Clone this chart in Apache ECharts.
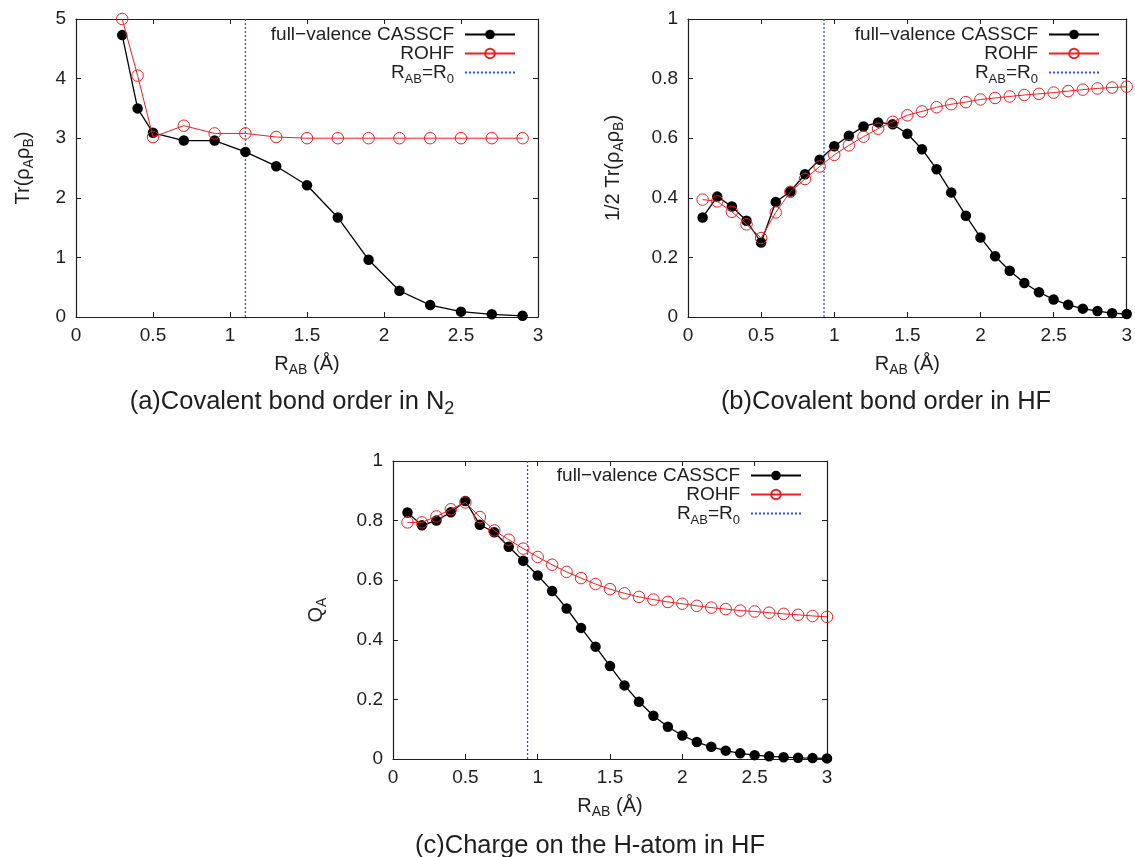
<!DOCTYPE html>
<html>
<head>
<meta charset="utf-8">
<script src="https://cdn.jsdelivr.net/npm/echarts@6/dist/echarts.min.js"></script>
<style>
  html, body { margin: 0; padding: 0; background: #fff; }
  #chart { width: 1135px; height: 857px; }
</style>
</head>
<body>
<div id="chart"></div>
<script>
// Bond distances R_AB (Å)
const rN2 = [0.3, 0.4, 0.5, 0.7, 0.9, 1.1, 1.3, 1.5, 1.7, 1.9, 2.1, 2.3, 2.5, 2.7, 2.9];
const rHF = [0.1, 0.2, 0.3, 0.4, 0.5, 0.6, 0.7, 0.8, 0.9, 1.0,
             1.1, 1.2, 1.3, 1.4, 1.5, 1.6, 1.7, 1.8, 1.9, 2.0,
             2.1, 2.2, 2.3, 2.4, 2.5, 2.6, 2.7, 2.8, 2.9, 3.0];

// (a) covalent bond order in N2, Tr(rho_A rho_B)
const n2Casscf = [4.73, 3.50, 3.09, 2.96, 2.96, 2.77, 2.53, 2.21, 1.67, 0.96, 0.44, 0.20, 0.09, 0.045, 0.02];
const n2Rohf   = [5.00, 4.05, 3.02, 3.21, 3.08, 3.08, 3.02, 3.00, 3.00, 3.00, 3.00, 3.00, 3.00, 3.00, 3.00];

// (b) covalent bond order in HF, 1/2 Tr(rho_A rho_B)
const hfBondCasscf = [0.334, 0.404, 0.371, 0.323, 0.250, 0.386, 0.421, 0.479, 0.528, 0.573,
                      0.608, 0.639, 0.653, 0.647, 0.615, 0.563, 0.496, 0.418, 0.340, 0.267,
                      0.204, 0.155, 0.114, 0.083, 0.059, 0.041, 0.028, 0.020, 0.013, 0.010];
const hfBondRohf   = [0.394, 0.388, 0.353, 0.311, 0.265, 0.351, 0.420, 0.463, 0.505, 0.544,
                      0.576, 0.605, 0.632, 0.655, 0.677, 0.690, 0.704, 0.714, 0.721, 0.730,
                      0.735, 0.740, 0.745, 0.749, 0.753, 0.758, 0.763, 0.767, 0.770, 0.773];

// (c) charge on the H atom in HF, Q_A
const hfChargeCasscf = [0.827, 0.784, 0.800, 0.828, 0.866, 0.786, 0.761, 0.712, 0.665, 0.616,
                        0.564, 0.505, 0.440, 0.377, 0.312, 0.247, 0.192, 0.145, 0.108, 0.079,
                        0.057, 0.041, 0.028, 0.019, 0.013, 0.009, 0.006, 0.004, 0.003, 0.002];
const hfChargeRohf   = [0.794, 0.794, 0.814, 0.838, 0.861, 0.812, 0.767, 0.736, 0.706, 0.678,
                        0.652, 0.628, 0.607, 0.587, 0.570, 0.556, 0.544, 0.535, 0.527, 0.521,
                        0.514, 0.508, 0.503, 0.498, 0.495, 0.491, 0.487, 0.484, 0.480, 0.477];

// Equilibrium distances R_0 (Å)
const r0N2 = 1.1;
const r0HF = 0.93;

// Tick labels
const xTickLabels = ['0', '0.5', '1', '1.5', '2', '2.5', '3'];
const yTickLabelsN2 = ['0', '1', '2', '3', '4', '5'];
const yTickLabelsHF = ['0', '0.2', '0.4', '0.6', '0.8', '1'];

// Series names
const NAME_CAS = 'full\u2212valence CASSCF';
const NAME_ROHF = 'ROHF';
const NAME_R0 = 'R_AB=R_0';

const FONT = '"Liberation Sans", Arial, Helvetica, sans-serif';
const INK = '#1e1e1e';
const RED = '#f01e1e';
const BLUE = '#2a4cff';

// Rich-text styles: normal text plus a smaller subscript pushed towards
// the bottom of the line box (a short token box aligned to the bottom)
const subRich = (size, lh, subBox) => ({
  n: { fontSize: size, lineHeight: lh, fontFamily: FONT, fontWeight: 'normal', color: INK },
  s: { fontSize: Math.round(size * 0.7), lineHeight: 1, height: subBox, verticalAlign: 'bottom',
       fontFamily: FONT, fontWeight: 'normal', color: INK }
});

const panels = [
  { grid: { left: 76, top: 19, width: 462, height: 298 },
    yMax: 5, yStep: 1, yLabels: yTickLabelsN2,
    yName: '{n|Tr(\u03c1}{s|A}{n|\u03c1}{s|B}{n|)}', yGap: 42,
    xs: rN2, cas: n2Casscf, rohf: n2Rohf, r0: r0N2,
    legend: { right: 619, top: 25 },
    caption: { text: '{n|(a)Covalent bond order in N}{s|2}', left: 292, top: 388 } },
  { grid: { left: 688, top: 19, width: 439, height: 298 },
    yMax: 1, yStep: 0.2, yLabels: yTickLabelsHF,
    yName: '{n|1/2 Tr(\u03c1}{s|A}{n|\u03c1}{s|B}{n|)}', yGap: 64,
    xs: rHF, cas: hfBondCasscf, rohf: hfBondRohf, r0: r0HF,
    legend: { right: 35, top: 25 },
    caption: { text: '{n|(b)Covalent bond order in HF}', left: 886, top: 388 } },
  { grid: { left: 393, top: 461, width: 434, height: 298 },
    yMax: 1, yStep: 0.2, yLabels: yTickLabelsHF,
    yName: '{n|Q}{s|A}', yGap: 66,
    xs: rHF, cas: hfChargeCasscf, rohf: hfChargeRohf, r0: r0HF,
    legend: { right: 333, top: 466 },
    caption: { text: '{n|(c)Charge on the H-atom in HF}', left: 590, top: 832 } }
];

const axisLine = { show: true, onZero: false, lineStyle: { color: INK, width: 1.2 } };
const axisTick = { show: true, inside: true, length: 5, lineStyle: { color: INK, width: 1 } };

const grids = [], xAxes = [], yAxes = [], series = [], legends = [], titles = [];

panels.forEach((p, i) => {
  grids.push(p.grid);

  const xBase = { type: 'value', gridIndex: i, min: 0, max: 3, interval: 0.5,
                  axisLine, axisTick, splitLine: { show: false } };
  xAxes.push(Object.assign({}, xBase, {
    position: 'bottom',
    axisLabel: { margin: 9, fontSize: 19, fontFamily: FONT, color: INK,
                 formatter: v => xTickLabels[Math.round(v / 0.5)] },
    name: '{n|R}{s|AB}{n| (\u00c5)}', nameLocation: 'middle', nameGap: 36,
    nameTextStyle: { rich: subRich(20, 22, 10) }
  }));
  xAxes.push(Object.assign({}, xBase, { position: 'top', axisLabel: { show: false } }));

  const yBase = { type: 'value', gridIndex: i, min: 0, max: p.yMax, interval: p.yStep,
                  axisLine, axisTick, splitLine: { show: false } };
  yAxes.push(Object.assign({}, yBase, {
    position: 'left',
    axisLabel: { margin: 10, fontSize: 19, fontFamily: FONT, color: INK,
                 formatter: v => p.yLabels[Math.round(v / p.yStep)] },
    name: p.yName, nameLocation: 'middle', nameGap: p.yGap, nameRotate: 90,
    nameTextStyle: { rich: subRich(20, 22, 10) }
  }));
  yAxes.push(Object.assign({}, yBase, { position: 'right', axisLabel: { show: false } }));

  const pairs = ys => p.xs.map((x, k) => [x, ys[k]]);

  series.push({
    name: NAME_CAS, type: 'line', xAxisIndex: 2 * i, yAxisIndex: 2 * i,
    data: pairs(p.cas), symbol: 'circle', symbolSize: 10.5, clip: false,
    lineStyle: { color: '#000', width: 1.3 },
    itemStyle: { color: '#000' }, z: 3
  });
  series.push({
    name: NAME_ROHF, type: 'line', xAxisIndex: 2 * i, yAxisIndex: 2 * i,
    data: pairs(p.rohf), symbol: 'circle', symbolSize: 11.5, clip: false,
    lineStyle: { color: RED, width: 1 },
    itemStyle: { color: 'rgba(255,255,255,0)', borderColor: RED, borderWidth: 1 }, z: 4
  });
  series.push({
    name: NAME_R0, type: 'line', xAxisIndex: 2 * i, yAxisIndex: 2 * i,
    data: [[p.r0, 0], [p.r0, p.yMax]], symbol: 'none', clip: false,
    lineStyle: { color: BLUE, width: 1.3, type: [2, 2] },
    itemStyle: { color: BLUE }, z: 2
  });

  legends.push({
    orient: 'vertical', align: 'right', right: p.legend.right, top: p.legend.top,
    padding: 0, itemGap: 0, itemWidth: 50, itemHeight: 12,
    selectedMode: false,
    data: [NAME_CAS, NAME_ROHF, { name: NAME_R0, itemStyle: { opacity: 0 } }],
    formatter: name => name === NAME_R0 ? '{n|R}{s|AB}{n|=R}{s|0}' : '{n|' + name + '}',
    textStyle: { padding: [0, 6, 0, 0], rich: subRich(19, 18.5, 5) }
  });

  titles.push({
    text: p.caption.text, left: p.caption.left, top: p.caption.top, textAlign: 'center',
    padding: 0,
    textStyle: { fontWeight: 'normal', rich: subRich(25.5, 28, 13) }
  });
});

const chart = echarts.init(document.getElementById('chart'), null, { renderer: 'canvas' });
chart.setOption({
  backgroundColor: '#fff',
  animation: false,
  textStyle: { fontFamily: FONT },
  title: titles,
  legend: legends,
  grid: grids,
  xAxis: xAxes,
  yAxis: yAxes,
  series: series
});
</script>
</body>
</html>
